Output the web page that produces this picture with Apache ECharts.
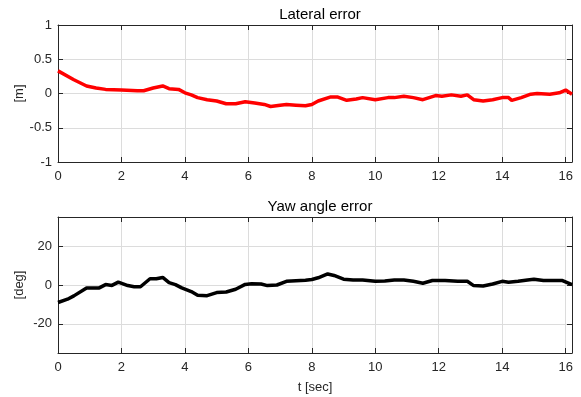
<!DOCTYPE html>
<html>
<head>
<meta charset="utf-8">
<script src="https://cdn.jsdelivr.net/npm/echarts@6/dist/echarts.min.js"></script>
<style>
  html, body { margin: 0; padding: 0; background: #fff; }
  #chart { width: 581px; height: 397px; }
</style>
</head>
<body>
<div id="chart"></div>
<script>
// lateral error [m] vs time [s]
const latT = [0, 0.5, 0.9, 1.2, 1.5, 2, 2.5, 2.7, 3, 3.3, 3.5, 3.8, 4, 4.2, 4.4, 4.7, 5, 5.3, 5.6, 5.9, 6.2, 6.5, 6.7, 7, 7.2, 7.5, 7.8, 8, 8.2, 8.6, 8.8, 9.1, 9.4, 9.6, 10, 10.4, 10.6, 10.9, 11.2, 11.5, 11.9, 12.1, 12.4, 12.7, 12.9, 13.1, 13.4, 13.7, 14, 14.2, 14.3, 14.6, 14.9, 15.1, 15.5, 15.8, 16, 16.2]
const latErr = [0.33, 0.2, 0.11, 0.08, 0.06, 0.05, 0.04, 0.04, 0.08, 0.11, 0.07, 0.06, 0.01, -0.02, -0.06, -0.09, -0.11, -0.15, -0.15, -0.12, -0.14, -0.16, -0.19, -0.17, -0.16, -0.17, -0.18, -0.16, -0.11, -0.05, -0.05, -0.1, -0.08, -0.06, -0.09, -0.06, -0.06, -0.04, -0.06, -0.09, -0.03, -0.04, -0.02, -0.04, -0.02, -0.09, -0.11, -0.09, -0.06, -0.06, -0.1, -0.06, -0.01, 0, -0.01, 0.01, 0.05, -0.01]

// yaw angle error [deg] vs time [s]
const yawT = [0, 0.3, 0.5, 0.9, 1.3, 1.5, 1.7, 1.9, 2.2, 2.4, 2.6, 2.9, 3.1, 3.3, 3.5, 3.7, 3.9, 4.2, 4.4, 4.7, 5, 5.3, 5.6, 5.9, 6.1, 6.4, 6.6, 6.9, 7.2, 7.5, 7.8, 8, 8.2, 8.5, 8.7, 9, 9.3, 9.6, 10, 10.3, 10.6, 10.9, 11.2, 11.5, 11.8, 12.2, 12.6, 12.9, 13.1, 13.4, 13.7, 14, 14.2, 14.5, 14.8, 15, 15.3, 15.6, 15.9, 16.2]
const yawErr = [-9, -7.3, -5.6, -1.5, -1.5, 0.2, -0.2, 1.5, -0.3, -0.9, -0.9, 3.2, 3.2, 3.9, 1.2, 0.2, -1.5, -3.4, -5.3, -5.5, -3.9, -3.6, -2.2, 0.3, 0.7, 0.5, -0.3, 0, 1.9, 2.2, 2.4, 2.8, 3.7, 5.7, 4.9, 3, 2.6, 2.6, 1.9, 2.1, 2.6, 2.6, 1.9, 0.9, 2.3, 2.3, 1.9, 1.9, -0.3, -0.5, 0.5, 1.9, 1.4, 1.9, 2.6, 3, 2.3, 2.3, 2.3, 0.2]

const xTicks = [0, 2, 4, 6, 8, 10, 12, 14, 16]
const latTicks = [-1, -0.5, 0, 0.5, 1]
const yawTicks = [-20, 0, 20]

const font = 'Liberation Sans, Arial, sans-serif'
const ink = '#262626'
const gridGray = '#dcdcdc'

const chart = echarts.init(document.getElementById('chart'))

function xAxisPair(gridIndex, name) {
  const base = {
    gridIndex,
    type: 'value',
    min: 0,
    max: 16.2,
    axisLine: { show: true, onZero: false, lineStyle: { color: ink, width: 1 } },
    axisTick: { show: true, inside: true, length: 5, customValues: xTicks, lineStyle: { color: ink } },
  }
  return [
    {
      ...base,
      position: 'bottom',
      name,
      nameLocation: 'middle',
      nameGap: 28,
      nameMoveOverlap: false,
      nameTextStyle: { color: ink, fontSize: 13, fontFamily: font },
      axisLabel: { color: ink, fontSize: 13, fontFamily: font, margin: 8, customValues: xTicks },
      splitLine: { show: true, lineStyle: { color: gridGray, width: 1 } },
    },
    {
      ...base,
      position: 'top',
      axisLabel: { show: false },
      splitLine: { show: false },
    },
  ]
}

function yAxisPair(gridIndex, min, max, name, ticks) {
  const base = {
    gridIndex,
    type: 'value',
    min,
    max,
    axisLine: { show: true, onZero: false, lineStyle: { color: ink, width: 1 } },
    axisTick: { show: true, inside: true, length: 5, customValues: ticks, lineStyle: { color: ink } },
  }
  return [
    {
      ...base,
      position: 'left',
      name,
      nameLocation: 'middle',
      nameGap: 32,
      nameMoveOverlap: false,
      nameTextStyle: { color: ink, fontSize: 13, fontFamily: font },
      axisLabel: { color: ink, fontSize: 13, fontFamily: font, margin: 6, customValues: ticks },
      splitLine: { show: true, lineStyle: { color: gridGray, width: 1 } },
    },
    {
      ...base,
      position: 'right',
      axisLabel: { show: false },
      splitLine: { show: false },
    },
  ]
}

const option = {
  animation: false,
  backgroundColor: '#fff',
  title: [
    {
      text: 'Lateral error',
      left: 315, top: 2, textAlign: 'center',
      textStyle: { color: '#000', fontSize: 15, fontWeight: 'normal', fontFamily: font },
    },
    {
      text: 'Yaw angle error',
      left: 315, top: 194, textAlign: 'center',
      textStyle: { color: '#000', fontSize: 15, fontWeight: 'normal', fontFamily: font },
    },
  ],
  grid: [
    { left: 58, right: 9, top: 25, height: 137 },
    { left: 58, right: 9, top: 217, height: 136 },
  ],
  xAxis: [...xAxisPair(0, ''), ...xAxisPair(1, 't [sec]')],
  yAxis: [
    ...yAxisPair(0, -1, 1, '[m]', latTicks),
    ...yAxisPair(1, -35, 35, '[deg]', yawTicks),
  ],
  series: [
    {
      type: 'line',
      xAxisIndex: 0,
      yAxisIndex: 0,
      data: latT.map((t, i) => [t, latErr[i]]),
      symbol: 'none',
      lineStyle: { color: '#ff0000', width: 3.5 },
    },
    {
      type: 'line',
      xAxisIndex: 2,
      yAxisIndex: 2,
      data: yawT.map((t, i) => [t, yawErr[i]]),
      symbol: 'none',
      lineStyle: { color: '#000000', width: 3.5 },
    },
  ],
}

chart.setOption(option)
</script>
</body>
</html>
